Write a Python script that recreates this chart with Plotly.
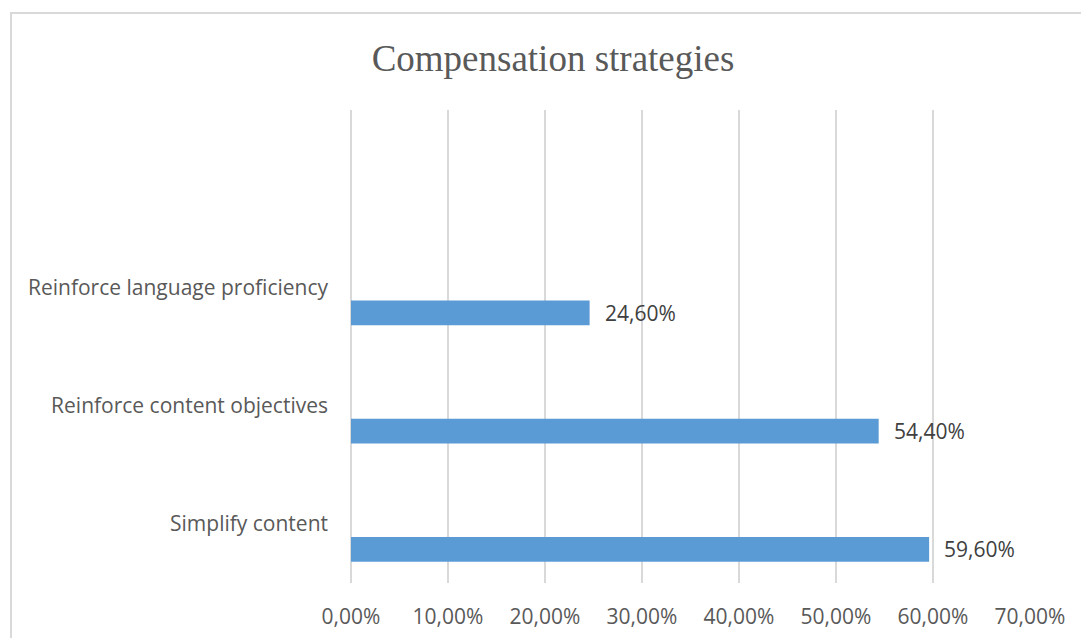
import plotly.graph_objects as go

# Share of teachers using each compensation strategy
strategies = ["Simplify content", "Reinforce content objectives", "Reinforce language proficiency"]
shares = [0.596, 0.544, 0.246]
value_labels = ["59,60%", "54,40%", "24,60%"]
tick_vals = [0, 0.1, 0.2, 0.3, 0.4, 0.5, 0.6, 0.7]
tick_text = ["0,00%", "10,00%", "20,00%", "30,00%", "40,00%", "50,00%", "60,00%", "70,00%"]

W, H = 1081, 638
M = dict(l=351, r=51, t=110, b=55)
label_font = "'Open Sans', Lato, sans-serif"
BAR_W, BAR_OFF = 0.21, -0.32

fig = go.Figure()
fig.add_trace(go.Bar(
    x=shares,
    y=strategies,
    orientation="h",
    marker=dict(color="#5b9bd5", line=dict(width=0)),
    width=BAR_W,
    offset=BAR_OFF,
    hoverinfo="skip",
))

# Value labels to the right of each bar
for i, (v, lab) in enumerate(zip(shares, value_labels)):
    fig.add_annotation(
        x=v, y=i + BAR_OFF + BAR_W / 2,
        text=lab, showarrow=False,
        xanchor="left", yanchor="middle", xshift=13,
        font=dict(family=label_font, size=21, color="#404040"),
    )

# Chart frame
pw = W - M["l"] - M["r"]
ph = H - M["t"] - M["b"]
fig.add_shape(
    type="rect", xref="paper", yref="paper",
    x0=(11 - M["l"]) / pw, x1=(W + 5 - M["l"]) / pw,
    y0=-(H + 5 - M["t"] - ph) / ph, y1=1 + (M["t"] - 13) / ph,
    line=dict(color="#d9d9d9", width=2), fillcolor="rgba(0,0,0,0)", layer="below",
)

fig.update_layout(
    width=W, height=H,
    margin=M,
    paper_bgcolor="white", plot_bgcolor="white",
    showlegend=False,
    title=dict(
        text="Compensation strategies",
        x=553 / W, xanchor="center", y=1 - 58 / H, yanchor="middle",
        font=dict(family="'Liberation Serif', 'Times New Roman', serif", size=37, color="#595959"),
    ),
    xaxis=dict(
        range=[0, 0.7],
        tickvals=tick_vals, ticktext=tick_text,
        showgrid=True, gridcolor="#d9d9d9", gridwidth=2,
        zeroline=True, zerolinecolor="#d9d9d9", zerolinewidth=2,
        showline=False, ticks="",
        tickfont=dict(family=label_font, size=21, color="#595959"),
        ticklabelstandoff=19,
        automargin=False,
    ),
    yaxis=dict(
        type="category",
        categoryorder="array", categoryarray=strategies,
        range=[-0.5, 3.5],
        showgrid=False, zeroline=False, showline=False, ticks="",
        tickfont=dict(family=label_font, size=21, color="#595959"),
        ticklabelstandoff=22,
        automargin=False,
    ),
)

fig.write_html("out.html")
